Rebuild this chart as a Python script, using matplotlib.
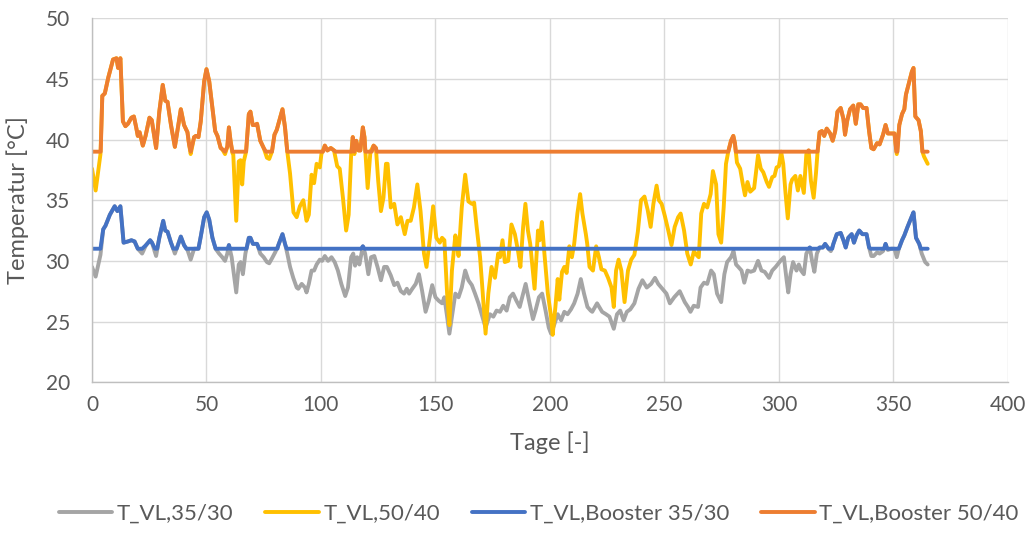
import matplotlib
matplotlib.use("Agg")
import matplotlib.pyplot as plt

plt.rcParams['font.family'] = ['Lato', 'DejaVu Sans']

# T_VL,35/30 (grey)
gray_days = [0, 1.6, 3.7, 4.9, 5.9, 7.8, 9.9, 11.1, 12.4, 13.8, 15.7, 17.2, 18.6, 20.0, 21.9, 23.6, 25.4, 26.2,
             28.0, 29.4, 31.1, 32.0, 33.0, 34.5, 36.2, 38.8, 40.2, 41.7, 43.1, 44.6, 46.5, 47.5, 49.0, 50.1,
             51.2, 52.6, 54.0, 55.5, 56.9, 58.1, 59.1, 59.8, 61.0, 63.0, 64.1, 64.9, 65.9, 67.0, 68.5, 69.2,
             70.3, 72.1, 73.5, 75.0, 76.4, 77.4, 78.6, 80.0, 81.4, 83.2, 84.3, 85.3, 86.5, 87.9, 89.4, 90.1,
             91.6, 93.0, 93.7, 94.7, 95.9, 97.0, 98.1, 99.5, 100.5, 101.7, 103.1, 104.6, 106.0, 107.4, 108.9,
             110.6, 111.8, 113.2, 114.1, 114.9, 115.8, 116.8, 118.3, 119.3, 120.7, 121.9, 123.3, 124.7, 126.2,
             127.6, 128.8, 130.5, 132.0, 133.4, 134.9, 136.3, 137.5, 138.5, 139.9, 141.4, 142.8, 144.2, 145.7,
             147.1, 148.6, 150.0, 151.5, 152.9, 153.9, 155.1, 156.1, 157.2, 158.7, 160.1, 161.5, 163.0, 164.4,
             165.9, 167.3, 168.8, 170.2, 171.9, 173.8, 175.3, 176.7, 178.2, 179.6, 181.1, 182.5, 183.9, 185.4,
             186.8, 188.3, 189.4, 190.9, 192.6, 193.7, 195.2, 196.6, 198.1, 199.5, 200.5, 202.0, 203.4, 204.9,
             206.3, 207.7, 209.2, 210.6, 212.1, 213.5, 214.9, 216.4, 217.8, 218.5, 220.6, 222.8, 224.5, 226.0,
             227.9, 229.3, 230.7, 232.2, 233.6, 235.1, 236.9, 238.7, 240.4, 242.3, 244.2, 245.9, 247.3, 249.1,
             250.9, 252.4, 254.3, 256.7, 258.9, 260.3, 261.4, 262.8, 264.7, 265.8, 267.3, 268.7, 270.4, 271.6,
             273.0, 274.8, 276.2, 277.4, 279.1, 280.2, 281.3, 282.3, 283.7, 284.9, 286.3, 287.7, 289.2, 290.9,
             292.4, 293.8, 295.7, 297.1, 298.6, 300.7, 302.2, 303.4, 304.1, 305.1, 306.2, 307.7, 308.7, 309.7,
             310.9, 312.0, 313.5, 314.5, 315.5, 316.6, 317.8, 319.2, 320.2, 321.7, 322.7, 323.8, 325.3, 327.0,
             328.2, 329.2, 330.3, 331.8, 332.8, 333.9, 335.1, 336.5, 338.3, 339.4, 340.4, 341.4, 342.9, 344.0,
             345.5, 346.6, 347.6, 349.1, 350.5, 351.5, 352.4, 353.8, 354.8, 356.2, 357.7, 358.8, 359.9, 361.3,
             362.4, 363.9, 365.0]
gray_vals = [29.5, 28.7, 30.5, 32.6, 32.9, 33.8, 34.5, 34.1, 34.5, 31.5, 31.6, 31.7, 31.6, 31.0, 30.6, 31.3, 31.7, 31.5,
             30.4, 31.9, 33.3, 32.5, 32.4, 31.5, 30.6, 32.0, 31.3, 30.9, 30.1, 31.0, 31.0, 32.0, 33.6, 34.0,
             33.4, 31.9, 31.0, 30.6, 30.3, 30.0, 30.6, 31.3, 30.3, 27.4, 29.7, 29.9, 28.9, 30.6, 31.9, 31.9,
             31.4, 31.4, 30.6, 30.3, 29.9, 29.8, 30.2, 30.7, 31.3, 32.2, 31.4, 30.6, 29.5, 28.6, 27.8, 27.7,
             28.1, 27.8, 27.4, 28.1, 29.2, 29.2, 29.7, 30.1, 30.0, 30.4, 30.0, 30.3, 29.9, 29.2, 28.1,
             27.1, 27.8, 30.3, 30.6, 29.6, 30.3, 29.7, 31.2, 30.6, 28.9, 30.3, 30.4, 29.5, 28.4,
             29.5, 29.5, 28.8, 28.0, 28.2, 27.5, 27.3, 27.7, 27.3, 27.7, 28.1, 28.9, 27.5, 25.8,
             26.7, 28.0, 27.0, 26.7, 26.5, 27.0, 25.4, 24.0, 25.4, 27.3, 27.0, 27.8, 29.2, 28.4,
             28.0, 27.3, 26.5, 25.6, 24.5, 25.6, 25.4, 25.9, 25.8, 26.3, 25.9, 27.0, 27.3, 26.7,
             26.2, 27.3, 28.1, 26.7, 25.2, 25.9, 27.0, 27.3, 25.9, 24.5, 24.0, 24.8, 25.6, 25.1,
             25.8, 25.6, 26.0, 26.5, 27.3, 28.5, 27.3, 26.2, 25.9, 25.8, 26.5, 25.8, 25.6, 25.4,
             24.4, 25.6, 25.9, 25.1, 25.8, 26.0, 26.5, 27.7, 28.4, 27.8, 28.1, 28.6, 28.1, 27.7,
             27.3, 26.5, 27.0, 27.5, 26.6, 26.2, 25.8, 26.3, 26.2, 27.8, 28.2, 28.1, 29.2, 28.9,
             27.3, 26.6, 28.9, 29.9, 30.3, 30.8, 29.7, 29.5, 29.2, 28.2, 29.2, 29.1, 29.2, 30.0,
             29.2, 29.1, 28.6, 29.2, 29.5, 30.0, 30.3, 28.4, 27.4, 28.9, 29.9, 29.2, 29.7, 29.2,
             28.9, 30.6, 31.1, 30.0, 29.1, 30.6, 31.1, 31.1, 31.4, 31.0, 30.8, 31.4, 32.2, 32.3,
             31.7, 31.1, 31.9, 32.2, 31.5, 32.1, 32.5, 32.2, 32.2, 31.1, 30.4, 30.4, 30.7, 30.6,
             30.8, 31.4, 30.9, 31.0, 31.0, 30.3, 31.0, 31.7, 32.1, 32.8, 33.5, 34.0, 31.9, 31.4,
             30.6, 29.9, 29.7]

# T_VL,50/40 (yellow)
yellow_days = [0, 1.6, 3.7, 4.5, 5.6, 7.1, 9.2, 10.7, 11.4, 12.4, 13.5, 14.6, 15.7, 17.2, 18.3, 19.3, 20.0, 20.8,
               22.2, 23.4, 25.1, 26.1, 28.0, 29.4, 30.9, 32.0, 33.0, 34.5, 36.2, 38.8, 40.2, 41.7, 42.4, 43.1,
               44.6, 45.4, 46.5, 47.5, 49.0, 50.0, 51.2, 52.6, 53.8, 54.8, 56.2, 56.9, 58.1, 59.1, 59.8, 60.5,
               61.3, 61.7, 63.0, 64.1, 64.9, 65.6, 66.3, 67.3, 68.5, 69.2, 70.2, 71.3, 72.1, 73.5, 75.0, 76.4,
               77.4, 78.6, 79.7, 80.7, 82.2, 83.2, 84.3, 85.3, 86.5, 88.0, 89.4, 90.8, 92.3, 93.7, 94.7, 95.9,
               97.0, 98.1, 99.5, 100.2, 101.7, 102.8, 104.3, 105.7, 107.1, 108.2, 109.6, 111.0, 112.1, 113.2,
               113.9, 114.6, 115.4, 116.4, 117.2, 118.3, 119.0, 120.4, 121.6, 123.0, 124.0, 125.0, 126.2, 127.3,
               128.4, 129.1, 130.5, 132.0, 133.4, 134.9, 136.6, 137.8, 139.2, 140.6, 142.1, 143.5, 145.0, 146.1,
               147.6, 149.0, 150.4, 151.9, 152.9, 153.9, 155.1, 156.1, 157.2, 158.7, 159.4, 160.1, 161.5, 163.0,
               164.4, 165.9, 166.9, 168.0, 169.5, 170.6, 171.9, 173.1, 174.5, 176.0, 177.4, 178.2, 179.3, 180.3,
               181.8, 183.2, 184.7, 186.1, 187.1, 188.3, 189.3, 190.4, 191.4, 193.3, 194.8, 195.5, 196.5, 197.6,
               199.1, 200.5, 201.2, 202.4, 203.4, 204.1, 205.3, 206.3, 207.3, 208.5, 209.6, 210.6, 212.0, 213.2,
               214.2, 215.7, 216.3, 217.3, 218.8, 220.2, 221.4, 222.5, 224.0, 225.4, 226.9, 227.9, 228.9, 230.0,
               231.2, 232.6, 234.1, 235.5, 236.9, 238.4, 239.8, 241.3, 242.7, 244.0, 245.2, 246.6, 247.6, 248.8,
               250.2, 251.7, 253.1, 254.5, 256.0, 257.1, 258.6, 260.0, 261.5, 262.9, 264.0, 265.0, 266.1, 267.3,
               268.7, 270.2, 271.2, 272.6, 273.6, 274.8, 275.9, 276.9, 277.9, 279.1, 280.1, 280.8, 281.7, 283.1,
               284.1, 285.2, 286.3, 287.5, 289.2, 290.9, 292.1, 293.2, 294.7, 295.7, 297.1, 298.1, 299.0, 300.0,
               301.0, 301.9, 302.9, 303.9, 305.1, 305.8, 307.2, 308.3, 309.4, 310.9, 312.0, 313.0, 314.0, 315.2,
               316.2, 316.9, 317.8, 318.8, 319.8, 320.9, 322.4, 323.5, 324.6, 325.6, 327.0, 328.2, 328.9, 329.9,
               331.1, 332.5, 333.6, 334.7, 335.7, 336.8, 338.3, 339.4, 340.4, 341.4, 342.9, 344.0, 345.5, 346.6,
               347.6, 349.5, 350.5, 351.5, 352.6, 353.8, 354.8, 355.5, 357.0, 358.1, 358.8, 359.6, 361.0, 362.0,
               362.7, 363.4, 365.0]
yellow_vals = [37.6, 35.8, 38.8, 43.6, 43.8, 45.1, 46.6, 46.7, 45.9, 46.7, 41.5, 41.1, 41.3, 41.8, 41.9, 41.0, 40.3, 40.6,
               39.5, 40.3, 41.8, 41.6, 39.3, 42.3, 44.5, 43.2, 43.1, 41.2, 39.4, 42.5, 41.2, 40.6, 39.6, 38.8,
               40.2, 40.3, 40.2, 41.5, 44.8, 45.8, 44.8, 42.6, 40.7, 40.3, 39.3, 39.2, 38.8, 39.4, 41.0, 39.9,
               38.9, 38.8, 33.3, 38.2, 38.3, 36.3, 38.2, 39.0, 42.1, 42.3, 41.2, 41.2, 41.3, 39.9, 39.3, 38.5,
               38.4, 39.0, 40.4, 40.8, 41.8, 42.5, 41.0, 39.0, 37.2, 34.0, 33.6, 34.5, 35.0, 33.3, 33.8, 37.1,
               36.4, 38.0, 37.7, 38.8, 39.5, 39.1, 39.3, 39.1, 37.8, 37.6, 35.2, 32.5, 33.8, 38.8,
               40.2, 38.8, 39.9, 39.1, 39.1, 41.0, 40.2, 36.0, 39.0, 39.5, 39.3, 36.6, 34.1, 35.2,
               38.0, 38.0, 34.4, 34.7, 33.0, 33.6, 32.2, 33.3, 33.3, 34.4, 36.3, 34.1, 30.6, 29.5,
               31.9, 34.5, 31.9, 31.5, 31.9, 31.7, 27.3, 24.7, 29.2, 32.1, 31.4, 30.4, 34.4, 37.1,
               34.9, 34.7, 34.8, 32.8, 30.3, 27.5, 24.0, 27.3, 29.5, 28.6, 30.6, 30.3, 31.7, 29.9,
               30.0, 33.0, 32.2, 30.8, 29.5, 32.8, 34.7, 32.5, 31.4, 27.7, 32.5, 31.7, 33.2, 30.6,
               27.3, 25.4, 23.9, 26.2, 28.5, 26.8, 29.1, 29.5, 29.0, 31.2, 30.3, 31.4, 33.9, 35.5,
               33.9, 32.2, 31.4, 29.5, 29.2, 31.2, 30.3, 29.3, 29.2, 28.6, 27.8, 26.2, 29.2, 30.1,
               29.2, 26.6, 29.2, 30.1, 30.5, 32.4, 35.0, 35.3, 34.2, 32.8, 34.7, 36.2, 35.0, 34.7,
               33.7, 32.5, 31.3, 32.8, 33.6, 33.9, 32.5, 30.6, 29.7, 30.8, 30.5, 30.3, 33.9, 34.7,
               34.4, 35.5, 37.4, 36.3, 32.2, 31.5, 34.4, 38.0, 39.0, 39.9, 40.3, 39.7, 38.1, 37.6,
               36.5, 35.4, 36.5, 35.7, 36.0, 38.7, 37.6, 37.3, 36.5, 36.1, 36.9, 37.0, 37.7, 37.8,
               39.0, 38.0, 35.6, 33.5, 36.3, 36.7, 37.0, 35.8, 37.0, 35.6, 38.8, 39.1, 36.6, 35.2,
               37.2, 39.0, 40.6, 40.7, 40.3, 40.9, 40.5, 39.9, 40.7, 42.3, 42.6, 41.7, 40.4, 41.6,
               42.5, 42.8, 41.3, 42.9, 42.9, 42.6, 42.6, 40.7, 39.3, 39.2, 39.7, 39.6, 40.4, 41.2,
               40.5, 40.5, 40.5, 38.8, 41.2, 42.1, 42.5, 43.7, 44.8, 45.6, 45.9, 41.9, 41.6, 40.7,
               39.0, 38.6, 38.0]

# T_VL,Booster 35/30 (blue)
blue_days = [0, 3.7, 4.9, 5.9, 7.8, 9.9, 11.1, 12.4, 13.8, 15.7, 17.2, 18.6, 20.0, 21.9, 23.6, 25.4, 26.2, 27.5,
             28.5, 29.4, 31.1, 32.0, 33.0, 34.5, 35.5, 37.0, 38.8, 40.2, 41.2, 46.5, 47.5, 49.0, 50.1, 51.2,
             52.6, 54.0, 59.3, 59.8, 60.3, 67.5, 68.5, 69.2, 70.3, 72.1, 73.0, 81.0, 81.4, 83.2, 84.3, 85.0,
             117.5, 118.3, 119.0, 313.0, 313.5, 314.0, 317.2, 317.8, 319.2, 320.2, 321.7, 323.3, 323.8, 325.3,
             327.0, 328.2, 329.2, 330.3, 331.8, 332.8, 333.9, 335.1, 336.5, 338.3, 339.4, 340.0, 346.0, 346.6,
             347.3, 352.4, 353.8, 354.8, 356.2, 357.7, 358.8, 359.9, 361.3, 362.0, 365.0]
blue_vals = [31.0, 31.0, 32.6, 32.9, 33.8, 34.5, 34.1, 34.5, 31.5, 31.6, 31.7, 31.6, 31.0, 31.0, 31.3, 31.7, 31.5, 31.0,
             31.0, 31.9, 33.3, 32.5, 32.4, 31.5, 31.0, 31.0, 32.0, 31.3, 31.0, 31.0, 32.0, 33.6, 34.0, 33.4,
             31.9, 31.0, 31.0, 31.3, 31.0, 31.0, 31.9, 31.9, 31.4, 31.4, 31.0, 31.0, 31.3, 32.2, 31.4, 31.0,
             31.0, 31.2, 31.0, 31.0, 31.1, 31.0, 31.0, 31.1, 31.1, 31.4, 31.0, 31.0, 31.4, 32.2,
             32.3, 31.7, 31.1, 31.9, 32.2, 31.5, 32.1, 32.5, 32.2, 32.2, 31.1, 31.0, 31.0, 31.4,
             31.0, 31.0, 31.7, 32.1, 32.8, 33.5, 34.0, 31.9, 31.4, 31.0, 31.0]

# T_VL,Booster 50/40 (orange)
orange_days = [0, 3.8, 4.5, 5.6, 7.1, 9.2, 10.7, 11.4, 12.4, 13.5, 14.6, 15.7, 17.2, 18.3, 19.3, 20.0, 20.8, 22.2,
               23.4, 25.1, 26.1, 28.0, 29.4, 30.9, 32.0, 33.0, 34.5, 36.2, 38.8, 40.2, 41.7, 42.4, 43.1, 44.6,
               45.4, 46.5, 47.5, 49.0, 50.0, 51.2, 52.6, 53.8, 54.8, 56.2, 56.9, 58.1, 59.1, 59.8, 60.5, 61.3,
               67.3, 68.5, 69.2, 70.2, 71.3, 72.1, 73.5, 75.0, 76.0, 78.6, 79.7, 80.7, 82.2, 83.2, 84.3, 85.3,
               100.9, 101.7, 102.8, 104.3, 105.7, 106.3, 113.4, 113.9, 114.6, 115.4, 116.4, 117.2, 118.3, 119.0,
               119.4, 122.2, 123.0, 124.0, 124.4, 277.9, 279.1, 280.1, 280.8, 281.2, 312.8, 313.0, 313.3, 316.9,
               317.8, 318.8, 319.8, 320.9, 322.4, 323.5, 324.6, 325.6, 327.0, 328.2, 328.9, 329.9, 331.1, 332.5,
               333.6, 334.7, 335.7, 336.8, 338.3, 339.4, 340.4, 341.4, 342.9, 344.0, 345.5, 346.6, 347.6, 349.5,
               350.5, 351.3, 351.8, 352.6, 353.8, 354.8, 355.5, 357.0, 358.1, 358.8, 359.6, 361.0, 362.0, 362.7,
               365.0]
orange_vals = [39.0, 39.0, 43.6, 43.8, 45.1, 46.6, 46.7, 45.9, 46.7, 41.5, 41.1, 41.3, 41.8, 41.9, 41.0, 40.3, 40.6, 39.5,
               40.3, 41.8, 41.6, 39.3, 42.3, 44.5, 43.2, 43.1, 41.2, 39.4, 42.5, 41.2, 40.6, 39.6, 39.0, 40.2,
               40.3, 40.2, 41.5, 44.8, 45.8, 44.8, 42.6, 40.7, 40.3, 39.3, 39.2, 39.0, 39.4, 41.0, 39.9, 39.0,
               39.0, 42.1, 42.3, 41.2, 41.2, 41.3, 39.9, 39.3, 39.0, 39.0, 40.4, 40.8, 41.8, 42.5, 41.0, 39.0,
               39.0, 39.5, 39.1, 39.3, 39.1, 39.0, 39.0, 40.2, 39.0, 39.9, 39.1, 39.1, 41.0, 40.2,
               39.0, 39.0, 39.5, 39.3, 39.0, 39.0, 39.9, 40.3, 39.7, 39.0, 39.0, 39.1, 39.0, 39.0,
               40.6, 40.7, 40.3, 40.9, 40.5, 39.9, 40.7, 42.3, 42.6, 41.7, 40.4, 41.6, 42.5, 42.8,
               41.3, 42.9, 42.9, 42.6, 42.6, 40.7, 39.3, 39.2, 39.7, 39.6, 40.4, 41.2, 40.5, 40.5,
               40.5, 39.0, 39.0, 41.2, 42.1, 42.5, 43.7, 44.8, 45.6, 45.9, 41.9, 41.6, 40.7, 39.0,
               39.0]

series = [
    ("T_VL,35/30", gray_days, gray_vals, "#A5A5A5"),
    ("T_VL,50/40", yellow_days, yellow_vals, "#FFC000"),
    ("T_VL,Booster 35/30", blue_days, blue_vals, "#4472C4"),
    ("T_VL,Booster 50/40", orange_days, orange_vals, "#ED7D31"),
]

x_ticks = [0, 50, 100, 150, 200, 250, 300, 350, 400]
y_ticks = [20, 25, 30, 35, 40, 45, 50]

text_color = "#595959"
grid_color = "#D9D9D9"

fig = plt.figure(figsize=(10.36, 5.36), dpi=100)
ax = fig.add_axes([0.0888, 0.287, 0.884, 0.679])

for label, d, v, c in series:
    ax.plot(d, v, color=c, linewidth=2.8, label=label,
            solid_joinstyle="round", solid_capstyle="round")

ax.set_xlim(0, 400)
ax.set_ylim(20, 50)
ax.set_xticks(x_ticks)
ax.set_yticks(y_ticks)
ax.grid(True, color=grid_color, linewidth=1.0)
ax.set_axisbelow(True)
for side in ("top", "right"):
    ax.spines[side].set_visible(False)
for side in ("left", "bottom"):
    ax.spines[side].set_color("#BFBFBF")
    ax.spines[side].set_linewidth(1.0)
ax.tick_params(length=0, labelsize=15, colors=text_color)
ax.tick_params(axis="y", pad=16)
ax.tick_params(axis="x", pad=9)

ax.set_xlabel("Tage [-]", fontsize=17, color=text_color, labelpad=12)
ax.set_ylabel("Temperatur [°C]", fontsize=17, color=text_color, labelpad=12)

fig.legend(loc="lower center", bbox_to_anchor=(0.52, -0.014), ncol=4, frameon=False,
           fontsize=16, handlelength=2.4, handletextpad=0.2, columnspacing=1.45,
           labelcolor=text_color)

fig.savefig("out.png", dpi=100)
